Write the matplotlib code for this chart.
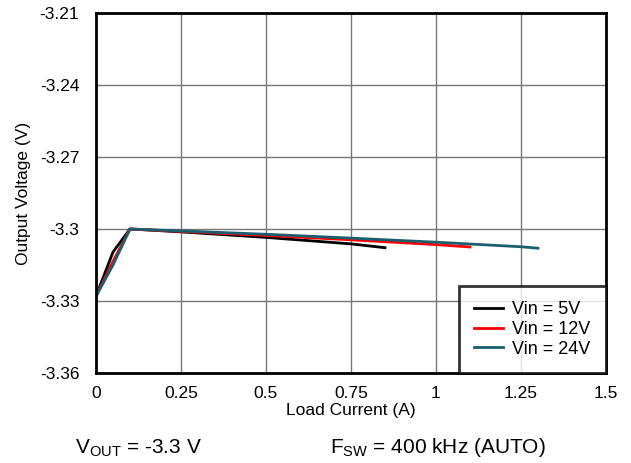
import numpy as np
import matplotlib.pyplot as plt

plt.rcParams['font.family'] = ['Liberation Sans', 'DejaVu Sans']

# data
i_5v = [0.0, 0.05, 0.1, 0.25, 0.5, 0.75, 0.85]
v_5v = [-3.328, -3.3096, -3.3, -3.3012, -3.3035, -3.3062, -3.3078]
i_12v = [0.0, 0.05, 0.1, 0.25, 0.5, 0.75, 1.0, 1.1]
v_12v = [-3.328, -3.3135, -3.3, -3.301, -3.3027, -3.3045, -3.3065, -3.3075]
i_24v = [0.0, 0.05, 0.1, 0.25, 0.5, 0.75, 1.0, 1.25, 1.3]
v_24v = [-3.328, -3.315, -3.3, -3.3008, -3.3022, -3.3038, -3.3055, -3.3074, -3.308]

xticks = [0, 0.25, 0.5, 0.75, 1, 1.25, 1.5]
xlabels = ['0', '0.25', '0.5', '0.75', '1', '1.25', '1.5']
yticks = [-3.36, -3.33, -3.3, -3.27, -3.24, -3.21]
ylabels = ['-3.36', '-3.33', '-3.3', '-3.27', '-3.24', '-3.21']

fig = plt.figure(figsize=(6.31, 4.63), dpi=100)
ax = fig.add_axes([96/631, 90/463, 510/631, 360/463])

ax.plot(i_5v, v_5v, color='black', lw=2, label='Vin = 5V')
ax.plot(i_12v, v_12v, color='red', lw=2, label='Vin = 12V')
ax.plot(i_24v, v_24v, color='#1b5e6e', lw=2, label='Vin = 24V')

ax.set_xlim(0, 1.5)
ax.set_ylim(-3.36, -3.21)
ax.set_xticks(xticks)
ax.set_xticklabels(xlabels)
ax.set_yticks(yticks)
ax.set_yticklabels(ylabels)
ax.tick_params(length=0, labelsize=12.5)
ax.tick_params(axis='x', pad=9)
ax.tick_params(axis='y', pad=12)
ax.grid(True, color='#777777', lw=1)
for s in ax.spines.values():
    s.set_linewidth(2)

ax.set_xlabel('Load Current (A)', fontsize=12.5, labelpad=2)
ax.set_ylabel('Output Voltage (V)', fontsize=12.5, labelpad=6)

leg = ax.legend(loc='lower right', fontsize=13, frameon=True, fancybox=False,
                borderaxespad=0, handlelength=1.6, handletextpad=0.5,
                labelspacing=0.15, borderpad=0.85)
leg.get_frame().set_edgecolor('black')
leg.get_frame().set_linewidth(2)

fig.text(75/631, 1 - 453/463, r'V$_{\mathregular{OUT}}$ = -3.3 V', fontsize=15, va='baseline')
fig.text(330/631, 1 - 453/463, r'F$_{\mathregular{SW}}$ = 400 kHz (AUTO)', fontsize=15, va='baseline')

fig.savefig('out.png', dpi=100)
